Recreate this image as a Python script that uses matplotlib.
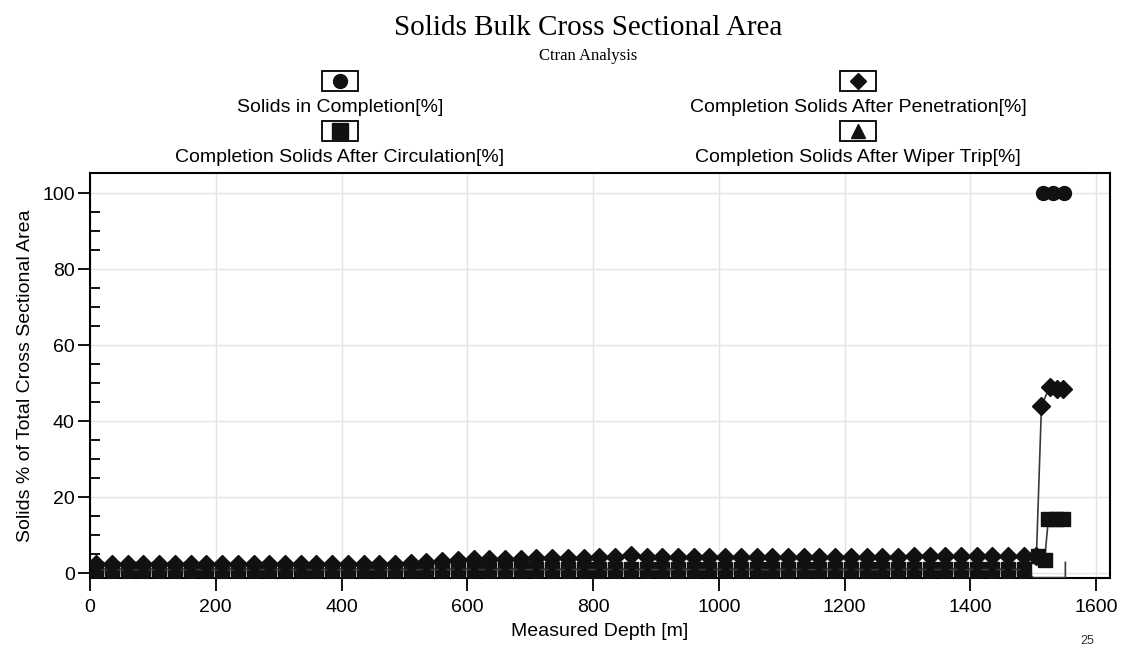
import matplotlib
matplotlib.use("Agg")
import matplotlib.pyplot as plt
from matplotlib.patches import Rectangle
from matplotlib.lines import Line2D

# ---------------- data ----------------
depth = [10, 35, 60, 85, 110, 135, 160, 185, 210, 235, 260, 285, 310, 335, 360, 385,
         410, 435, 460, 485, 510, 535, 560, 585, 610, 635, 660, 685, 710, 735, 760,
         785, 810, 835, 860, 885, 910, 935, 960, 985, 1010, 1035, 1060, 1085, 1110,
         1135, 1160, 1185, 1210, 1235, 1260, 1285, 1310, 1335, 1360, 1385, 1410,
         1435, 1460, 1485]

penetration_base = [2.3, 2.3, 2.3, 2.3, 2.3, 2.3, 2.3, 2.3, 2.3, 2.3, 2.3, 2.3, 2.3, 2.3,
                    2.3, 2.3, 2.3, 2.3, 2.4, 2.5, 2.7, 3.0, 3.3, 3.5, 3.6, 3.7, 3.8, 3.8,
                    3.9, 3.9, 4.0, 4.0, 4.1, 4.2, 4.7, 4.2, 4.2, 4.3, 4.3, 4.3, 4.3, 4.3,
                    4.3, 4.3, 4.3, 4.3, 4.3, 4.3, 4.3, 4.3, 4.3, 4.3, 4.4, 4.4, 4.4, 4.4,
                    4.4, 4.4, 4.4, 4.4]
pen_tail_depth = [1505, 1513, 1526, 1537, 1548]
pen_tail_val = [4.5, 44.0, 49.0, 48.5, 48.5]

completion_depth = [1516, 1532, 1549]
completion_val = [100.0, 100.0, 100.0]
completion_base = 0.3

circulation_base = 1.0
circ_tail_depth = [1508, 1518, 1524, 1536, 1548]
circ_tail_val = [4.5, 3.5, 14.2, 14.2, 14.2]

wiper_base = 0.9
wiper_tail_depth = [1500, 1551, 1551]
wiper_tail_val = [-1.2, -1.2, 2.8]

x_ticks = [0, 200, 400, 600, 800, 1000, 1200, 1400, 1600]
y_ticks = [0, 20, 40, 60, 80, 100]

# ---------------- figure ----------------
W, H = 1136, 649
fig = plt.figure(figsize=(W / 100, H / 100), dpi=100)
fig.patch.set_facecolor("white")
ax = fig.add_axes([90 / W, 1 - 578 / H, (1110 - 90) / W, (578 - 173) / H])

mk = "#111111"
ln = "#3a3a3a"

# solids in completion (circles)
ax.plot(depth + completion_depth,
        [completion_base] * len(depth) + completion_val,
        linestyle="none", marker="o", markersize=10, color=mk, zorder=3)

# circulation (squares)
ax.plot(depth + circ_tail_depth,
        [circulation_base] * len(depth) + circ_tail_val,
        linestyle="-", linewidth=1.2, color=ln, marker="s", markersize=10,
        markerfacecolor=mk, markeredgecolor=mk, zorder=3)

# wiper trip (triangles)
wd = depth + wiper_tail_depth
wv = [wiper_base] * len(depth) + wiper_tail_val
ax.plot(wd, wv, linestyle="-", linewidth=1.2, color=ln, marker="^",
        markersize=10, markerfacecolor=mk, markeredgecolor=mk,
        markevery=list(range(len(depth))), zorder=3, clip_on=True)

# penetration (diamonds)
ax.plot(depth + pen_tail_depth, penetration_base + pen_tail_val,
        linestyle="-", linewidth=1.2, color=ln, marker="D", markersize=9.5,
        markerfacecolor=mk, markeredgecolor=mk, zorder=4)

ax.set_xlim(0, 1622)
ax.set_ylim(-1.3, 105.3)
ax.set_xticks(x_ticks)
ax.set_yticks(y_ticks)
ax.set_yticks([v for v in range(5, 105, 5) if v % 20 != 0], minor=True)
ax.tick_params(axis="both", which="major", direction="out", length=9, width=1.3,
               labelsize=14, colors="black")
ax.tick_params(axis="x", which="major", pad=6)
ax.tick_params(axis="y", which="major", pad=2)
ax.tick_params(axis="y", which="minor", direction="in", length=7, width=1.3)
ax.grid(True, which="major", color="#e4e4e4", linewidth=1.0)
ax.set_axisbelow(True)
for s in ax.spines.values():
    s.set_linewidth(1.5)
    s.set_color("black")
for lab in ax.get_xticklabels() + ax.get_yticklabels():
    lab.set_family("Liberation Sans")

ax.set_xlabel("Measured Depth [m]", fontsize=14, family="Liberation Sans", labelpad=5)
ax.set_ylabel("Solids % of Total Cross Sectional Area", fontsize=14,
              family="Liberation Sans", labelpad=6)

# titles
fig.text(588 / W, 1 - 28 / H, "Solids Bulk Cross Sectional Area", ha="center",
         va="center", fontsize=21, family="Liberation Serif")
fig.text(588 / W, 1 - 56 / H, "Ctran Analysis", ha="center", va="center",
         fontsize=12, family="Liberation Serif")

# legend (custom, two columns with boxed symbols above the labels)
entries = [
    (340, 81, 107, "o", "Solids in Completion[%]"),
    (858, 81, 107, "D", "Completion Solids After Penetration[%]"),
    (340, 131, 158, "s", "Completion Solids After Circulation[%]"),
    (858, 131, 158, "^", "Completion Solids After Wiper Trip[%]"),
]
for cx, by, ty, m, label in entries:
    bw, bh = 36, 19
    fig.add_artist(Rectangle(((cx - bw / 2) / W, 1 - (by + bh / 2) / H), bw / W, bh / H,
                             transform=fig.transFigure, fill=False,
                             edgecolor="black", linewidth=1.3))
    ms = {"o": 10, "D": 8, "s": 11, "^": 10}[m]
    fig.add_artist(Line2D([cx / W], [1 - by / H], transform=fig.transFigure,
                          marker=m, markersize=ms, color=mk, linestyle="none"))
    fig.text(cx / W, 1 - ty / H, label, ha="center", va="center", fontsize=14,
             family="Liberation Sans")

fig.text(1087 / W, 1 - 641 / H, "25", ha="center", va="center", fontsize=9,
         family="Liberation Sans", color="#333333")

fig.savefig("out.png", dpi=100)
